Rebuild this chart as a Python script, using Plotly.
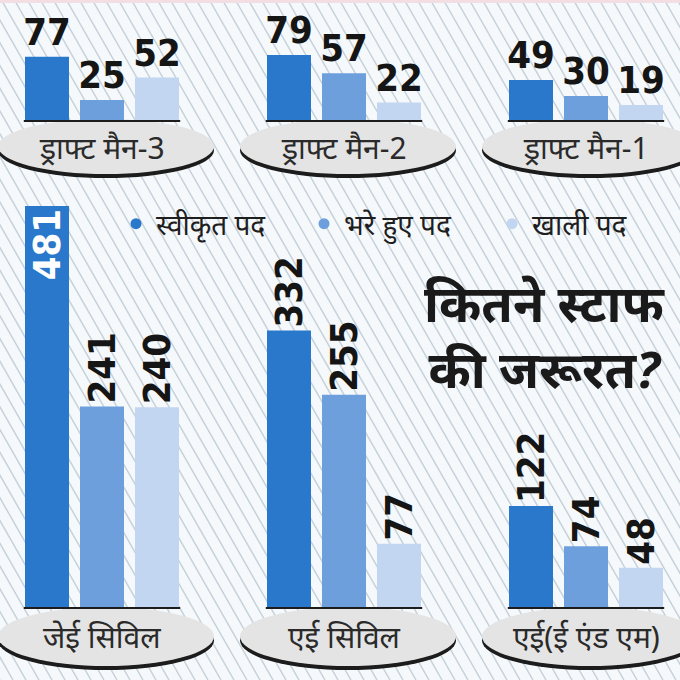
import plotly.graph_objects as go

# ---------------- data ----------------
series_names = ['स्वीकृत पद', 'भरे हुए पद', 'खाली पद']
top_categories = ['ड्राफ्ट मैन-3', 'ड्राफ्ट मैन-2', 'ड्राफ्ट मैन-1']
top_sanctioned = [77, 79, 49]
top_filled = [25, 57, 30]
top_vacant = [52, 22, 19]
bottom_categories = ['जेई सिविल', 'एई सिविल', 'एई(ई एंड एम)']
bottom_sanctioned = [481, 332, 122]
bottom_filled = [241, 255, 74]
bottom_vacant = [240, 77, 48]
title_text = 'कितने स्टाफ<br>की जरूरत?'

# ---------------- style ----------------
W = H = 680
colors = ['#2a78cb', '#6c9fdc', '#c2d5f1']
num_font = 'DejaVu Sans Condensed, Liberation Sans Narrow, Roboto, sans-serif'
deva_font = 'Noto Sans, sans-serif'

group_px = 242.0          # px per category
first_center_px = 102.0   # px of first category centre
xr = [-first_center_px / group_px, (W - first_center_px) / group_px]
bar_w = 44 / group_px
bar_step = 55 / group_px
px_per_unit = 0.836
bot_base_px = 608   # from top
top_base_px = 121
yr_bot = [-(H - bot_base_px) / px_per_unit, bot_base_px / px_per_unit]
yr_top = [-(H - top_base_px) / px_per_unit, top_base_px / px_per_unit]

fig = go.Figure()

top_series = [top_sanctioned, top_filled, top_vacant]
bot_series = [bottom_sanctioned, bottom_filled, bottom_vacant]

for i, (name, vals) in enumerate(zip(series_names, bot_series)):
    pos = ['inside' if v > 400 else 'outside' for v in vals]
    fig.add_trace(go.Bar(
        x=bottom_categories, y=vals, name=name, showlegend=False,
        marker=dict(color=colors[i], line=dict(width=0)),
        width=bar_w, offset=(i - 1) * bar_step - bar_w / 2,
        text=[str(v) for v in vals], textposition=pos, textangle=-90,
        insidetextanchor='end', constraintext='none', cliponaxis=False,
        insidetextfont=dict(family=num_font, size=38, color='white', weight='bold'),
        outsidetextfont=dict(family=num_font, size=38, color='#151515', weight='bold'),
        xaxis='x', yaxis='y', hoverinfo='skip'))

for i, (name, vals) in enumerate(zip(series_names, top_series)):
    fig.add_trace(go.Bar(
        x=top_categories, y=vals, name=name, showlegend=False,
        marker=dict(color=colors[i], line=dict(width=0)),
        width=bar_w, offset=(i - 1) * bar_step - bar_w / 2,
        text=[str(v) for v in vals], textposition='outside', textangle=0,
        constraintext='none', cliponaxis=False,
        outsidetextfont=dict(family=num_font, size=38, color='#151515', weight='bold'),
        xaxis='x2', yaxis='y2', hoverinfo='skip'))

# legend entries (dots)
for i, name in enumerate(series_names):
    fig.add_trace(go.Scatter(
        x=[None], y=[None], mode='markers', name=name,
        marker=dict(color=colors[i], size=11, symbol='circle'),
        xaxis='x', yaxis='y'))

# ---------------- decorations ----------------
shapes = []
# hatch background
segs = []
slope = 1.75
span = H / slope
x0 = -span
while x0 < W + 10:
    segs.append('M %.4f %.4f L %.4f %.4f' % (x0 / W, 1.0, (x0 + span) / W, 0.0))
    x0 += 13
shapes.append(dict(type='path', xref='paper', yref='paper', path=' '.join(segs),
                   line=dict(color='#c6d1da', width=1.5), layer='below'))
shapes.append(dict(type='rect', xref='paper', yref='paper', x0=0, x1=1,
                   y0=1 - 3 / H, y1=1, fillcolor='#f3dfe3', line=dict(width=0), layer='below'))

def ellipse(cx_px, top_px, bot_px, half_w=108):
    out = []
    # dark shadow rim
    out.append(dict(type='circle', xref='paper', yref='paper',
                    x0=(cx_px - half_w) / W, x1=(cx_px + half_w) / W,
                    y0=1 - (bot_px + 4) / H, y1=1 - (top_px + 4) / H,
                    fillcolor='#1c1c1c', line=dict(width=0), layer='below'))
    out.append(dict(type='circle', xref='paper', yref='paper',
                    x0=(cx_px - half_w) / W, x1=(cx_px + half_w) / W,
                    y0=1 - bot_px / H, y1=1 - top_px / H,
                    fillcolor='#e4e4e4', line=dict(width=0), layer='below'))
    return out

centers_px = [first_center_px + 4 + k * group_px for k in range(3)]
for c in centers_px:
    shapes += ellipse(c, 119, 174)
    shapes += ellipse(c, 607, 666)

# baselines
for k in range(3):
    for xref, yref in (('x', 'y'), ('x2', 'y2')):
        shapes.append(dict(type='line', xref=xref, yref=yref,
                           x0=k - bar_step - bar_w / 2 - 0.005, x1=k + bar_step + bar_w / 2 + 0.005,
                           y0=0, y1=0, line=dict(color='#1c1c1c', width=2), layer='above'))

annotations = []
for cat in top_categories:
    annotations.append(dict(x=cat, xref='x2', y=1 - 147 / H, yref='paper', text=cat,
                            showarrow=False, font=dict(family=deva_font, size=30, color='#2a2a2a'),
                            xanchor='center', yanchor='middle'))
for cat in bottom_categories:
    annotations.append(dict(x=cat, xref='x', y=1 - 636 / H, yref='paper', text=cat,
                            showarrow=False, font=dict(family=deva_font, size=30, color='#2a2a2a'),
                            xanchor='center', yanchor='middle'))
annotations.append(dict(x=545 / W, y=1 - 335 / H, xref='paper', yref='paper', text=title_text,
                        showarrow=False, align='center',
                        font=dict(family=deva_font, size=51, color='#1a1a1a', weight='bold', style='italic'),
                        xanchor='center', yanchor='middle'))

fig.update_layout(
    width=W, height=H, margin=dict(l=0, r=0, t=0, b=0),
    paper_bgcolor='#f6f9fb', plot_bgcolor='rgba(0,0,0,0)',
    barmode='overlay', showlegend=True,
    xaxis=dict(type='category', categoryorder='array', categoryarray=bottom_categories,
               range=xr, visible=False, fixedrange=True),
    xaxis2=dict(type='category', categoryorder='array', categoryarray=top_categories,
                range=xr, visible=False, overlaying='x', fixedrange=True),
    yaxis=dict(range=yr_bot, visible=False, fixedrange=True),
    yaxis2=dict(range=yr_top, visible=False, overlaying='y', fixedrange=True),
    legend=dict(orientation='h', x=1.0, y=1 - 224 / H, xanchor='right', yanchor='middle',
                bgcolor='rgba(0,0,0,0)', entrywidth=143, entrywidthmode='pixels',
                font=dict(family=deva_font, size=28, color='#1e1e1e', style='italic')),
    shapes=shapes, annotations=annotations,
)

fig.write_html('out.html')
